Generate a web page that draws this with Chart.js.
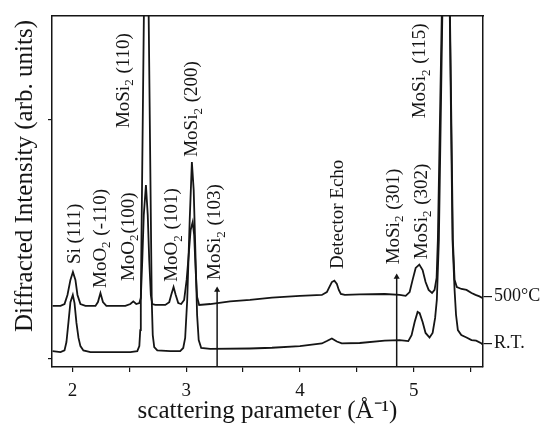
<!DOCTYPE html>
<html>
<head>
<meta charset="utf-8">
<script src="https://cdn.jsdelivr.net/npm/chart.js@4.4.0/dist/chart.umd.min.js"></script>
<style>
  body { margin: 0; background: #fff; }
  canvas { display: block; }
</style>
</head>
<body>
<canvas id="grafico" width="544" height="432"></canvas>
<script>
// 500°C trace (scattering parameter, intensity in arb. units)
const q500 = [1.825, 1.895, 1.930, 1.956, 1.982, 2.004, 2.026, 2.044, 2.070, 2.114,
  2.202, 2.224, 2.246, 2.268, 2.298, 2.465, 2.509, 2.535, 2.561, 2.588,
  2.601, 2.614, 2.627, 2.646, 2.662, 2.675, 2.689, 2.702, 2.728, 2.816,
  2.851, 2.868, 2.889, 2.908, 2.930, 2.956, 2.982, 3.004, 3.022, 3.039,
  3.057, 3.070, 3.083, 3.096, 3.114, 3.211, 3.386, 3.561, 3.754, 4.000,
  4.193, 4.237, 4.263, 4.281, 4.303, 4.325, 4.342, 4.360, 4.395, 4.526,
  4.746, 4.877, 4.930, 4.965, 4.991, 5.018, 5.050, 5.079, 5.105, 5.132,
  5.162, 5.184, 5.202, 5.213, 5.289, 5.345, 5.360, 5.380, 5.421, 5.465,
  5.509, 5.544, 5.579, 5.605];
const i500 = [222, 222, 230, 268, 331, 364, 331, 268, 230, 222,
  222, 238, 276, 238, 222, 222, 230, 241, 230, 234,
  255, 414, 602, 728, 602, 414, 268, 230, 226, 226,
  238, 268, 301, 268, 234, 230, 247, 331, 435, 540,
  573, 519, 372, 259, 226, 230, 241, 247, 257, 264,
  268, 280, 305, 322, 328, 314, 289, 272, 268, 270,
  272, 268, 264, 280, 331, 381, 395, 372, 322, 289,
  276, 289, 339, 498, 2573, 498, 331, 301, 293, 289,
  276, 268, 262, 255];

// R.T. trace
const qRT = [1.825, 1.895, 1.930, 1.947, 1.965, 1.982, 2.003, 2.018, 2.035, 2.053,
  2.070, 2.096, 2.158, 2.509, 2.570, 2.588, 2.596, 2.601, 2.649, 2.697,
  2.706, 2.719, 2.746, 2.860, 2.947, 2.974, 2.991, 3.009, 3.031, 3.050,
  3.066, 3.083, 3.096, 3.110, 3.132, 3.211, 3.561, 3.754, 4.000, 4.193,
  4.237, 4.281, 4.325, 4.368, 4.526, 4.746, 4.877, 4.953, 4.982, 5.009,
  5.035, 5.053, 5.079, 5.105, 5.140, 5.167, 5.189, 5.204, 5.222, 5.289,
  5.342, 5.360, 5.373, 5.389, 5.419, 5.465, 5.509, 5.550, 5.594, 5.605];
const iRT = [33, 29, 36, 71, 155, 238, 268, 234, 151, 88,
  54, 36, 29, 29, 33, 54, 121, 247, 2368, 247,
  100, 50, 36, 33, 33, 46, 88, 247, 582, 824,
  707, 414, 184, 79, 46, 42, 44, 47, 54, 65,
  75, 86, 73, 65, 67, 77, 79, 75, 100, 155,
  197, 192, 155, 109, 90, 109, 172, 247, 498, 2573,
  498, 289, 184, 121, 100, 90, 79, 77, 66, 61];

// reflection markers (arrows)
const markerQ = [3.272, 4.851];
const markerTop = [289, 343];

const xTicks = [2, 2.5, 3, 3.5, 4, 4.5, 5, 5.5];
const xTickLabels = ['2', '', '3', '', '4', '', '5', ''];
const yTicks = [0, 1000];
const endTicks = [262, 65];
const endLabels = ['500°C', 'R.T.'];

// peak labels
const labelPre = ['Si (111)', 'MoO', 'MoO', 'MoSi', 'MoO', 'MoSi', 'MoSi', 'Detector Echo', 'MoSi', 'MoSi', 'MoSi'];
const labelSub = ['', '2', '2', '2', '2', '2', '2', '', '2', '2', '2'];
const labelPost = ['', ' (-110)', '(100)', ' (110)', ' (101)', ' (200)', ' (103)', '', ' (301)', ' (302)', ' (115)'];
const labelQ = [2.066, 2.294, 2.539, 2.496, 2.921, 3.096, 3.298, 4.377, 4.868, 5.114, 5.101];
const labelI = [397, 297, 326, 966, 323, 846, 331, 377, 396, 417, 1007];

const yMin = -33.5;
const yMax = 1435;
const negro = '#151515';
const fuente = '"Liberation Serif", "Times New Roman", serif';

const toPoints = (qs, is) => qs.map((q, k) => ({ x: q, y: is[k] }));

const datasets = [
  { label: '500°C', data: toPoints(q500, i500) },
  { label: 'R.T.', data: toPoints(qRT, iRT) }
].map(d => ({ ...d, showLine: true, borderColor: negro, borderWidth: 1.8, pointRadius: 0, tension: 0 }));

markerQ.forEach((q, k) => {
  datasets.push({
    label: 'marker' + k,
    data: [{ x: q, y: yMin }, { x: q, y: markerTop[k] }],
    showLine: true,
    borderColor: negro,
    borderWidth: 1.5,
    pointStyle: 'triangle',
    pointRadius: [0, 3.5],
    pointBackgroundColor: negro,
    pointBorderColor: negro,
    pointBorderWidth: 0
  });
});

const zeroPad = s => { s.paddingTop = 0; s.paddingBottom = 0; s.paddingLeft = 0; s.paddingRight = 0; };

const textos = {
  id: 'textos',
  afterDraw(chart) {
    const { ctx, scales: { x, y } } = chart;
    ctx.save();
    ctx.fillStyle = negro;
    ctx.textAlign = 'left';
    ctx.textBaseline = 'alphabetic';
    labelQ.forEach((q, k) => {
      ctx.save();
      ctx.translate(x.getPixelForValue(q), y.getPixelForValue(labelI[k]));
      ctx.rotate(-Math.PI / 2);
      let pos = 0;
      ctx.font = '19px ' + fuente;
      ctx.fillText(labelPre[k], pos, 0);
      pos += ctx.measureText(labelPre[k]).width;
      if (labelSub[k]) {
        ctx.font = '13px ' + fuente;
        ctx.fillText(labelSub[k], pos, 4.5);
        pos += ctx.measureText(labelSub[k]).width + 1;
        ctx.font = '19px ' + fuente;
      }
      ctx.fillText(labelPost[k], pos, 0);
      ctx.restore();
    });
    // y axis title
    ctx.translate(32, 176);
    ctx.rotate(-Math.PI / 2);
    ctx.textAlign = 'center';
    ctx.font = '25px ' + fuente;
    ctx.fillText('Diffracted Intensity (arb. units)', 0, 0);
    ctx.restore();
  }
};

new Chart(document.getElementById('grafico'), {
  type: 'scatter',
  data: { datasets },
  options: {
    responsive: false,
    animation: false,
    layout: { padding: { top: 16, left: 0, right: 0, bottom: 0 } },
    plugins: { legend: { display: false }, tooltip: { enabled: false } },
    scales: {
      x: {
        type: 'linear',
        min: 1.82,
        max: 5.61,
        afterBuildTicks: s => { s.ticks = xTicks.map(v => ({ value: v })); },
        afterFit: s => { s.height = 65; zeroPad(s); },
        ticks: {
          callback: (v, k) => xTickLabels[k],
          font: { family: fuente, size: 19 },
          color: negro,
          padding: 8,
          maxRotation: 0,
          autoSkip: false
        },
        grid: { drawOnChartArea: false, tickLength: 5, color: negro, lineWidth: 1.2 },
        border: { display: true, color: negro, width: 1.5 },
        title: {
          display: true,
          text: 'scattering parameter (Å⁻¹)',
          font: { family: fuente, size: 25 },
          color: negro,
          padding: { top: 0, bottom: 6 }
        }
      },
      x2: {
        type: 'linear',
        position: 'top',
        min: 1.82,
        max: 5.61,
        afterFit: s => { s.height = 0; zeroPad(s); },
        ticks: { display: false },
        grid: { display: false },
        border: { display: true, color: negro, width: 1.5 }
      },
      y: {
        min: yMin,
        max: yMax,
        afterBuildTicks: s => { s.ticks = yTicks.map(v => ({ value: v })); },
        afterFit: s => { s.width = 52; zeroPad(s); },
        ticks: { callback: () => '', padding: 0 },
        grid: { drawOnChartArea: false, tickLength: 4, color: negro, lineWidth: 1.2 },
        border: { display: true, color: negro, width: 1.5 }
      },
      y2: {
        position: 'right',
        min: yMin,
        max: yMax,
        afterBuildTicks: s => { s.ticks = endTicks.map(v => ({ value: v })); },
        afterFit: s => { s.width = 61; zeroPad(s); },
        ticks: {
          callback: (v, k) => endLabels[k],
          font: { family: fuente, size: 18 },
          color: negro,
          padding: 2
        },
        grid: { drawOnChartArea: false, tickLength: 9, color: negro, lineWidth: 1.2 },
        border: { display: true, color: negro, width: 1.5 }
      }
    }
  },
  plugins: [textos]
});
</script>
</body>
</html>
